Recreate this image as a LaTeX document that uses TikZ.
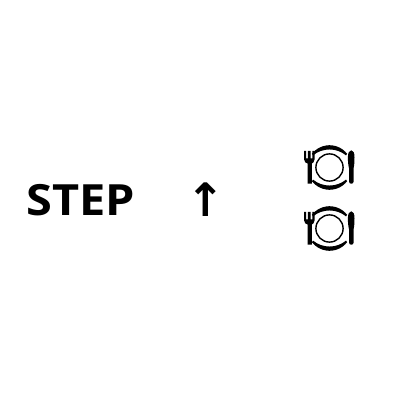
\documentclass[tikz,border=0pt]{standalone}
\usepackage{fontspec}
\setmainfont{Open Sans}
\newfontfamily\arrowfont{DejaVu Sans}
\tikzset{
  lbl/.style={inner sep=0pt,anchor=center},
  plateicon/.pic={
    \fill (-25.4,16.5) -- (-23.3,16.5) -- (-23.3,9) -- (-21.6,9) -- (-21.6,16.5) -- (-18.9,16.5) -- (-18.9,9) -- (-17.2,9) -- (-17.2,16.5) -- (-15,16.5)
      -- (-15,8) .. controls (-15,5.5) and (-16.6,4.5) .. (-17.6,4) -- (-17.6,-16.2) -- (-22,-16.2) -- (-22,4) .. controls (-23.6,4.5) and (-25.4,5.5) .. (-25.4,8) -- cycle;
    \fill (21.8,17.2) .. controls (24,17.2) and (25,14.5) .. (25,10) .. controls (25,5) and (24.6,1) .. (24,-1) -- (24,-14.4) .. controls (24,-15.6) and (23,-16.2) .. (21.8,-16.2) .. controls (20.6,-16.2) and (19.6,-15.6) .. (19.6,-14.4) -- (19.6,-1) .. controls (19,1) and (18.4,5) .. (18.4,10) .. controls (18.4,14.5) and (19.6,17.2) .. (21.8,17.2) -- cycle;
    \draw[line width=1.4pt] (0,0) circle (13.6);
    \fill (38:22.3) arc[start angle=38,end angle=142,radius=22.3] -- ++(1.1,-1.6) arc[start angle=129.4,end angle=50.6,radius=26] -- cycle;
    \fill (-38:22.3) arc[start angle=-38,end angle=-142,radius=22.3] -- ++(1.1,1.6) arc[start angle=-129.4,end angle=-50.6,radius=26] -- cycle;
  }
}
\begin{document}
\begin{tikzpicture}[x=1pt,y=1pt]
\useasboundingbox (0,0) rectangle (400,400);
\node[lbl,xscale=1.09] (step) at (80.5,200.3) {\fontsize{43}{43}\selectfont\bfseries STEP};
\node[lbl] (arrow) at (205.5,200.5) {\fontsize{46}{46}\selectfont\arrowfont\bfseries ↑};
\pic at (329.5,232.5) {plateicon};
\pic at (329.5,171.5) {plateicon};
\end{tikzpicture}
\end{document}
